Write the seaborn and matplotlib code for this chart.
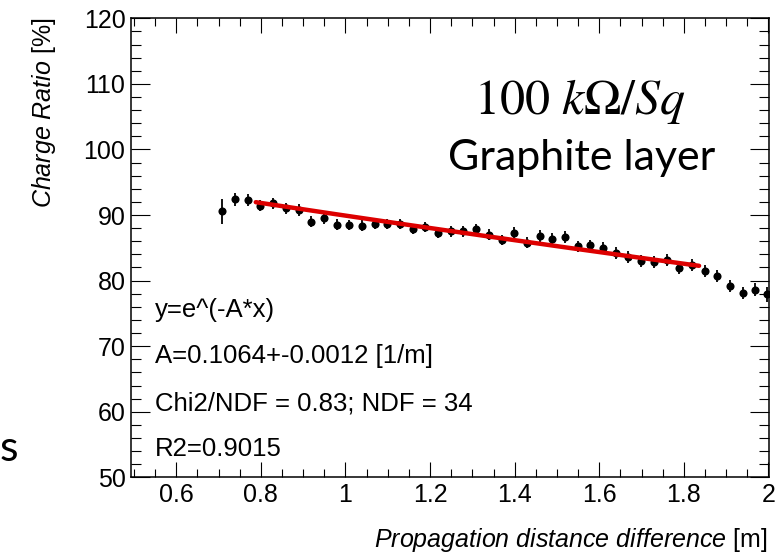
import matplotlib
matplotlib.use("Agg")
import matplotlib.pyplot as plt
from matplotlib.ticker import MultipleLocator
import numpy as np
import pandas as pd
import seaborn as sns

# ---------------- data ----------------
distance = [0.709, 0.739, 0.769, 0.799, 0.829, 0.859, 0.889, 0.919, 0.949, 0.979,
            1.009, 1.039, 1.069, 1.099, 1.129, 1.159, 1.189, 1.219, 1.249, 1.279,
            1.309, 1.339, 1.369, 1.399, 1.429, 1.459, 1.489, 1.519, 1.549, 1.579,
            1.609, 1.639, 1.669, 1.699, 1.729, 1.759, 1.789, 1.819, 1.849, 1.879,
            1.909, 1.939, 1.969, 1.997]
charge_ratio = [90.6, 92.4, 92.3, 91.4, 91.8, 91.0, 90.8, 89.0, 89.5, 88.5,
                88.5, 88.4, 88.6, 88.6, 88.6, 87.9, 88.2, 87.3, 87.5, 87.5,
                87.8, 87.0, 86.2, 87.2, 85.8, 86.8, 86.3, 86.6, 85.2, 85.4,
                85.0, 84.2, 83.6, 83.0, 82.8, 83.1, 81.9, 82.4, 81.5, 80.7,
                79.2, 78.1, 78.6, 77.9]
charge_err = [1.9, 1.0, 0.9, 0.85, 0.85, 0.9, 0.9, 0.9, 0.9, 0.85,
              0.8, 0.8, 0.8, 0.8, 0.8, 0.8, 0.8, 0.8, 0.8, 0.8,
              0.8, 0.8, 0.8, 0.9, 0.8, 0.9, 0.9, 0.9, 0.85, 0.85,
              0.85, 0.85, 0.9, 0.9, 0.9, 0.9, 0.9, 0.9, 0.9, 0.9,
              0.95, 0.95, 1.0, 1.1]

fit_A = 0.1064
fit_range = [0.788, 1.836]

x_ticks = [0.6, 0.8, 1.0, 1.2, 1.4, 1.6, 1.8, 2.0]
x_tick_labels = ["0.6", "0.8", "1", "1.2", "1.4", "1.6", "1.8", "2"]
y_ticks = [50, 60, 70, 80, 90, 100, 110, 120]

stats_lines = ["y=e^(-A*x)", "A=0.1064+-0.0012 [1/m]",
               "Chi2/NDF = 0.83; NDF = 34", "R2=0.9015"]

# ---------------- style ----------------
sns.set_theme(style="ticks")
plt.rcParams["font.family"] = ["Liberation Sans", "DejaVu Sans"]
plt.rcParams["mathtext.fontset"] = "custom"
plt.rcParams["mathtext.rm"] = "Liberation Sans"
plt.rcParams["mathtext.it"] = "Liberation Sans:italic"

W, H = 777, 554
fig = plt.figure(figsize=(W / 100, H / 100), dpi=100)
fig.patch.set_facecolor("white")

L, R, T, B = 131, 769.3, 18.3, 477.3
ax = fig.add_axes([L / W, 1 - B / H, (R - L) / W, (B - T) / H])
ax.set_facecolor("white")

def fx(px):
    return px / W

def fy(py):
    return 1 - py / H

df = pd.DataFrame({"x": distance, "y": charge_ratio, "e": charge_err})

ax.errorbar(df["x"], df["y"], yerr=df["e"], fmt="none", ecolor="black",
            elinewidth=1.3, capsize=0, zorder=3)
sns.scatterplot(data=df, x="x", y="y", ax=ax, color="black", s=34,
                edgecolor="black", linewidth=0, zorder=4, legend=False)

xf = np.linspace(fit_range[0], fit_range[1], 200)
fit_df = pd.DataFrame({"x": xf, "y": 100 * np.exp(-fit_A * xf)})
sns.lineplot(data=fit_df, x="x", y="y", ax=ax, color="#dd0000", linewidth=3.2,
             zorder=5, legend=False)

ax.set_xlim(0.493, 2.002)
ax.set_ylim(50, 120)
ax.set_xticks(x_ticks)
ax.set_xticklabels(x_tick_labels)
ax.set_yticks(y_ticks)
ax.xaxis.set_minor_locator(MultipleLocator(0.05))
ax.yaxis.set_minor_locator(MultipleLocator(2))
ax.tick_params(axis="both", which="both", direction="in", top=True, right=True,
               width=0.8, colors="black", labelsize=18, pad=4)
ax.tick_params(axis="x", which="major", length=10.5)
ax.tick_params(axis="x", which="minor", length=5.5)
ax.tick_params(axis="y", which="major", length=13.5)
ax.tick_params(axis="y", which="minor", length=7)
for sp in ax.spines.values():
    sp.set_visible(True)
    sp.set_color("black")
    sp.set_linewidth(1.1)
ax.set_xlabel("")
ax.set_ylabel("")
ax.grid(False)

# axis titles
fig.text(fx(44), fy(113), r"$\mathit{Charge\ Ratio}$ [%]", rotation=90,
         ha="center", va="center", fontsize=18, color="black")
fig.text(fx(767), fy(540), r"$\mathit{Propagation\ distance\ difference}$ [m]",
         ha="right", va="center", fontsize=18, color="black")

# statistics box text
for line, py in zip(stats_lines, [310, 356, 403, 449]):
    fig.text(fx(155), fy(py), line, ha="left", va="center", fontsize=18.5,
             color="black")

# annotation
fig.text(fx(580), fy(114), r"$100\ k\Omega/Sq$", ha="center", va="baseline",
         fontsize=36, color="black", math_fontfamily="stix")
fig.text(fx(582), fy(170), "Graphite layer", ha="center", va="baseline",
         fontsize=31, color="black", family=["Lato", "DejaVu Sans"])
fig.text(fx(0), fy(461), "s", ha="left", va="baseline", fontsize=31,
         color="black", family=["Lato", "DejaVu Sans"])

fig.savefig("out.png", dpi=100, facecolor="white")
